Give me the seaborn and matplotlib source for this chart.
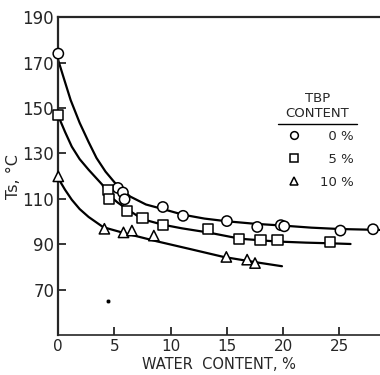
import matplotlib
matplotlib.use("Agg")
import matplotlib.pyplot as plt
import seaborn as sns
import pandas as pd

# measured points, TBP content 0 / 5 / 10 %
circ_x = [0, 5.3, 5.75, 5.9, 9.3, 11.1, 15.0, 17.7, 19.8, 20.1, 25.1, 28.0]
circ_y = [174, 114.8, 112.8, 109.8, 106.4, 102.5, 100.2, 97.6, 98.4, 97.9, 96.0, 96.6]
sq_x = [0, 4.4, 4.5, 6.1, 7.5, 9.3, 13.3, 16.1, 18.0, 19.5, 24.2]
sq_y = [146.9, 113.8, 110.0, 104.5, 101.4, 98.4, 96.6, 92.4, 92.0, 92.0, 90.9]
tri_x = [0, 4.1, 5.8, 6.55, 8.5, 14.95, 16.8, 17.5]
tri_y = [119.9, 96.8, 95.2, 96.0, 93.8, 84.4, 83.2, 81.7]

# drawn curves
c0_x = [0, 0.5, 1.1, 1.9, 2.7, 3.4, 4.2, 5.3, 6.4, 7.8, 9.3, 11.1, 13, 15, 17.5, 20, 22.5, 25, 28.6]
c0_y = [171, 163, 153.5, 143.5, 135, 128, 122, 115.5, 111, 107.5, 105.5, 103, 101.3, 100.1, 99, 98.2, 97.3, 96.7, 96.3]
c5_x = [0, 0.6, 1.2, 1.9, 2.7, 3.9, 4.45, 5.3, 6.2, 7.5, 9.3, 11, 13.3, 16.2, 19.4, 22, 24.2, 26]
c5_y = [146.5, 139.5, 133, 127.5, 122.8, 116.3, 111.8, 108.3, 105.2, 101.0, 98.6, 97.0, 95.2, 92.4, 91.2, 90.7, 90.4, 90.1]
c10_x = [0, 0.6, 1.2, 1.9, 2.7, 4.0, 5.8, 8.75, 11.7, 14.7, 17.65, 19.9]
c10_y = [119, 114, 109.6, 105.5, 102, 97.5, 95.0, 91.3, 87.9, 84.4, 82.0, 80.3]

stray_x = [4.45]
stray_y = [64.9]

tbp = ["\u20070 %", "\u20075 %", "10 %"]

pts = pd.DataFrame({
    "x": circ_x + sq_x + tri_x,
    "y": circ_y + sq_y + tri_y,
    "tbp": [tbp[0]] * len(circ_x) + [tbp[1]] * len(sq_x) + [tbp[2]] * len(tri_x),
})

sns.set_style("ticks")
plt.rcParams["font.family"] = ["DejaVu Sans"]

fig = plt.figure(figsize=(3.8, 3.75), dpi=100)
ax = fig.add_axes([0.1534, 0.1067, 0.8466, 0.8472])

for cx, cy in [(c0_x, c0_y), (c5_x, c5_y), (c10_x, c10_y)]:
    sns.lineplot(x=cx, y=cy, ax=ax, color="black", linewidth=1.6, sort=False)

sns.scatterplot(data=pts, x="x", y="y", style="tbp", markers=["o", "s", "^"],
                ax=ax, s=55, facecolor="white", edgecolor="black", linewidth=1.1,
                color="white", zorder=3, legend=True, clip_on=False)
sns.scatterplot(x=stray_x, y=stray_y, ax=ax, s=10, color="black", zorder=3)

ax.set_xlim(0, 28.62)
ax.set_ylim(50, 190)
ax.set_xticks([0, 5, 10, 15, 20, 25])
ax.set_yticks([70, 90, 110, 130, 150, 170, 190])
ax.tick_params(axis="both", direction="in", length=6, width=1.3, pad=3)
ax.tick_params(axis="y", labelsize=12)
ax.tick_params(axis="x", labelsize=11)
ax.spines["right"].set_visible(False)
for s in ["left", "top"]:
    ax.spines[s].set_linewidth(1.6)
ax.spines["bottom"].set_linewidth(1.2)

ax.set_xlabel("WATER  CONTENT, %", fontsize=10.5, labelpad=2)
ax.set_ylabel("Ts, °C", fontsize=11.5, labelpad=1)

leg = ax.legend(title="TBP\nCONTENT", frameon=False, fontsize=9.5, title_fontsize=9.5,
                loc="upper center", bbox_to_anchor=(0.805, 0.785), markerscale=0.75,
                handletextpad=1.0, labelspacing=0.75, borderpad=0, alignment="center")
leg.get_title().set_multialignment("center")
for h in leg.legend_handles:
    h.set_markerfacecolor("white")
    h.set_markeredgecolor("black")
ax.plot([0.683, 0.928], [0.664, 0.664], transform=ax.transAxes, color="black",
        linewidth=1.0, clip_on=False)

fig.savefig("out.png", dpi=100)
